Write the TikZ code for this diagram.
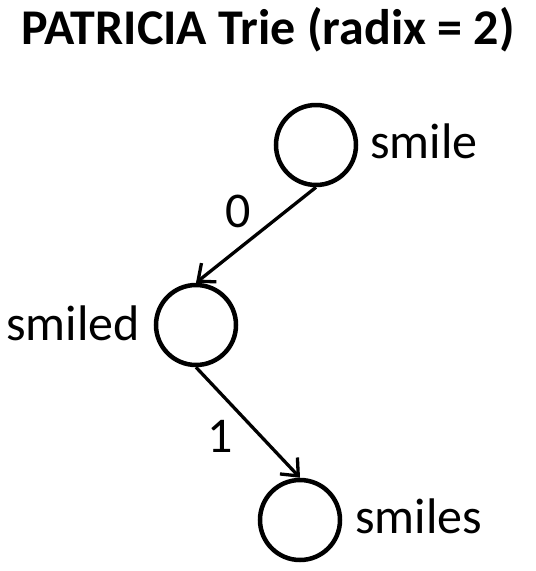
\documentclass[tikz,border=0pt]{standalone}
\usepackage{fontspec}
\setmainfont{Carlito}
\usetikzlibrary{arrows.meta}
\begin{document}
\begin{tikzpicture}[x=1pt,y=-1pt,
  trienode/.style={circle,draw=black,line width=4.5pt,minimum size=80pt,inner sep=0pt},
  lbl/.style={inner sep=0pt,font=\fontsize{50}{60}\selectfont},
  edgelbl/.style={inner sep=0pt,font=\fontsize{50}{60}\selectfont},
  ttl/.style={inner sep=0pt,font=\fontsize{50}{60}\selectfont\bfseries},
  edge/.style={line width=3.3pt,-{Straight Barb[length=14pt,width=24pt,line width=3.3pt]}}]
\useasboundingbox (0,0) rectangle (536,571);
\node[ttl,anchor=base] (title) at (268,44) {PATRICIA Trie (radix = 2)};
\node[trienode] (n1) at (316,145) {};
\node[trienode] (n2) at (196,325) {};
\node[trienode] (n3) at (300,520) {};
\node[lbl,anchor=base west] (l1) at (370,158) {smile};
\node[lbl,anchor=base east] (l2) at (140,340) {smiled};
\node[lbl,anchor=base west] (l3) at (355,533) {smiles};
\draw[edge] (n1.south) -- (n2.north);
\draw[edge] (n2.south) -- (n3.north);
\node[edgelbl,anchor=base] (e0) at (238,227) {0};
\node[edgelbl,anchor=base] (e1) at (220,452) {1};
\end{tikzpicture}
\end{document}
